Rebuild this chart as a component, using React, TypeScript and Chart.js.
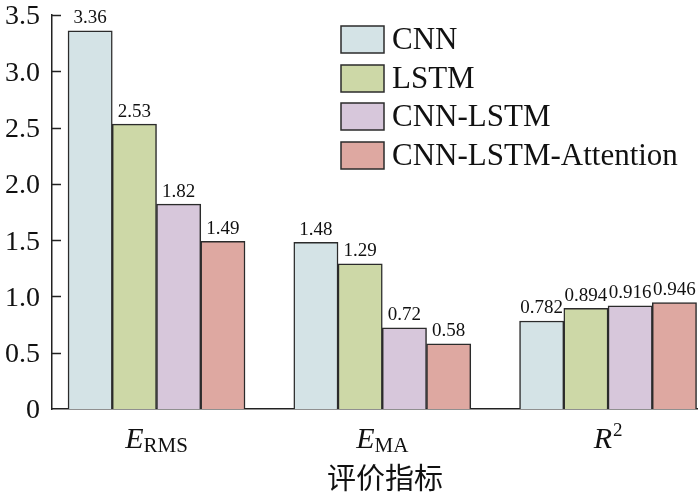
import React, { useEffect, useRef } from "react";
import { Chart, registerables } from "chart.js";

Chart.register(...registerables);

const categories = ["E|RMS|sub", "E|MA|sub", "R|2|sup"];
const seriesNames = ["CNN", "LSTM", "CNN-LSTM", "CNN-LSTM-Attention"];
const cnnValues = [3.36, 1.48, 0.782];
const lstmValues = [2.53, 1.29, 0.894];
const cnnLstmValues = [1.82, 0.72, 0.916];
const attentionValues = [1.49, 0.58, 0.946];
const valueLabels = [
  ["3.36", "1.48", "0.782"],
  ["2.53", "1.29", "0.894"],
  ["1.82", "0.72", "0.916"],
  ["1.49", "0.58", "0.946"],
];
const yTicks = [0, 0.5, 1.0, 1.5, 2.0, 2.5, 3.0, 3.5];
const xTitle = "评价指标";
const colors = ["#d4e3e6", "#cdd8a7", "#d7c7db", "#dea8a1"];

const SERIF = "'Liberation Serif', 'Times New Roman', serif";

const customPlugin = {
  id: "custom",
  afterDatasetsDraw(chart: any) {
    const ctx = chart.ctx;
    const y = chart.scales.y;
    const x = chart.scales.x;
    const area = chart.chartArea;
    ctx.save();
    // inward tick marks on y axis
    ctx.strokeStyle = "#222";
    ctx.lineWidth = 1.5;
    yTicks.forEach((t) => {
      if (t === 0) return;
      const py = Math.round(y.getPixelForValue(t)) + 0.5;
      ctx.beginPath();
      ctx.moveTo(area.left, py);
      ctx.lineTo(area.left + 9, py);
      ctx.stroke();
    });
    // value labels
    ctx.fillStyle = "#111";
    ctx.font = `19px ${SERIF}`;
    ctx.textAlign = "center";
    ctx.textBaseline = "bottom";
    chart.data.datasets.forEach((ds: any, di: number) => {
      const meta = chart.getDatasetMeta(di);
      meta.data.forEach((bar: any, i: number) => {
        ctx.fillText(valueLabels[di][i], bar.x, bar.y - 3);
      });
    });
    // x category labels
    categories.forEach((c, i) => {
      const [main, sub, kind] = c.split("|");
      const cx = x.getPixelForValue(i);
      ctx.font = `italic 30px ${SERIF}`;
      const wMain = ctx.measureText(main).width;
      const subFont = kind === "sub" ? `21px ${SERIF}` : `19px ${SERIF}`;
      ctx.font = subFont;
      const wSub = ctx.measureText(sub).width;
      const total = wMain + wSub + (kind === "sup" ? 1 : 0);
      const sx = cx - total / 2;
      ctx.textAlign = "left";
      ctx.textBaseline = "alphabetic";
      ctx.font = `italic 30px ${SERIF}`;
      ctx.fillText(main, sx, 448);
      ctx.font = subFont;
      if (kind === "sub") {
        ctx.fillText(sub, sx + wMain, 452);
      } else {
        ctx.fillText(sub, sx + wMain + 1, 436);
      }
    });
    // x title
    ctx.font = `29px 'Noto Sans CJK SC', sans-serif`;
    ctx.textAlign = "center";
    ctx.textBaseline = "alphabetic";
    ctx.fillText(xTitle, 385, 489);
    // legend
    const rowTops = [26, 65, 103, 142];
    seriesNames.forEach((name, i) => {
      const top = rowTops[i];
      ctx.fillStyle = colors[i];
      ctx.fillRect(341, top, 43, 27);
      ctx.strokeStyle = "#2b2b2b";
      ctx.lineWidth = 1.5;
      ctx.strokeRect(341, top, 43, 27);
      ctx.fillStyle = "#111";
      ctx.font = `31px ${SERIF}`;
      ctx.textAlign = "left";
      ctx.textBaseline = "middle";
      ctx.fillText(name, 392, top + 15);
    });
    ctx.restore();
  },
};

export default function App() {
  const ref = useRef<HTMLCanvasElement | null>(null);
  useEffect(() => {
    if (!ref.current) return;
    const seriesValues = [cnnValues, lstmValues, cnnLstmValues, attentionValues];
    const chart = new Chart(ref.current, {
      type: "bar",
      data: {
        datasets: seriesNames.map((name, i) => ({
          label: name,
          data: seriesValues[i].map((v, j) => ({ x: j, y: v })),
          backgroundColor: colors[i],
          borderColor: "#2b2b2b",
          borderWidth: 1.5,
          barThickness: 44.25,
        })),
      },
      options: {
        animation: false,
        responsive: true,
        maintainAspectRatio: false,
        layout: { padding: { top: 15, right: 3, left: 0, bottom: 0 } },
        plugins: { legend: { display: false }, tooltip: { enabled: false } },
        scales: {
          x: {
            type: "linear",
            min: -0.463,
            max: 2.394,
            bounds: "data",
            offset: false,
            afterBuildTicks: (s: any) => {
              s.ticks = [{ value: 0 }, { value: 1 }, { value: 2 }];
            },
            ticks: { display: false },
            grid: { display: false, drawTicks: false, offset: false },
            border: { display: true, color: "#222", width: 1.5 },
            afterFit: (s: any) => {
              s.height = 87;
            },
          },
          y: {
            min: 0,
            max: 3.5,
            afterBuildTicks: (s: any) => {
              s.ticks = yTicks.map((v) => ({ value: v }));
            },
            ticks: {
              color: "#111",
              font: { family: SERIF, size: 28 },
              padding: 12,
              labelOffset: 2,
              callback: (v: any) => (Number(v) === 0 ? "0" : Number(v).toFixed(1)),
            },
            grid: { display: false, drawTicks: false },
            border: { display: true, color: "#222", width: 1.5 },
            afterFit: (s: any) => {
              s.width = 52;
              s.paddingTop = 0;
              s.paddingBottom = 0;
            },
          },
        },
      },
      plugins: [customPlugin],
    } as any);
    return () => chart.destroy();
  }, []);
  return (
    <div style={{ position: "fixed", left: 0, top: 0, width: 700, height: 496, background: "#fff" }}>
      <canvas ref={ref} />
    </div>
  );
}
